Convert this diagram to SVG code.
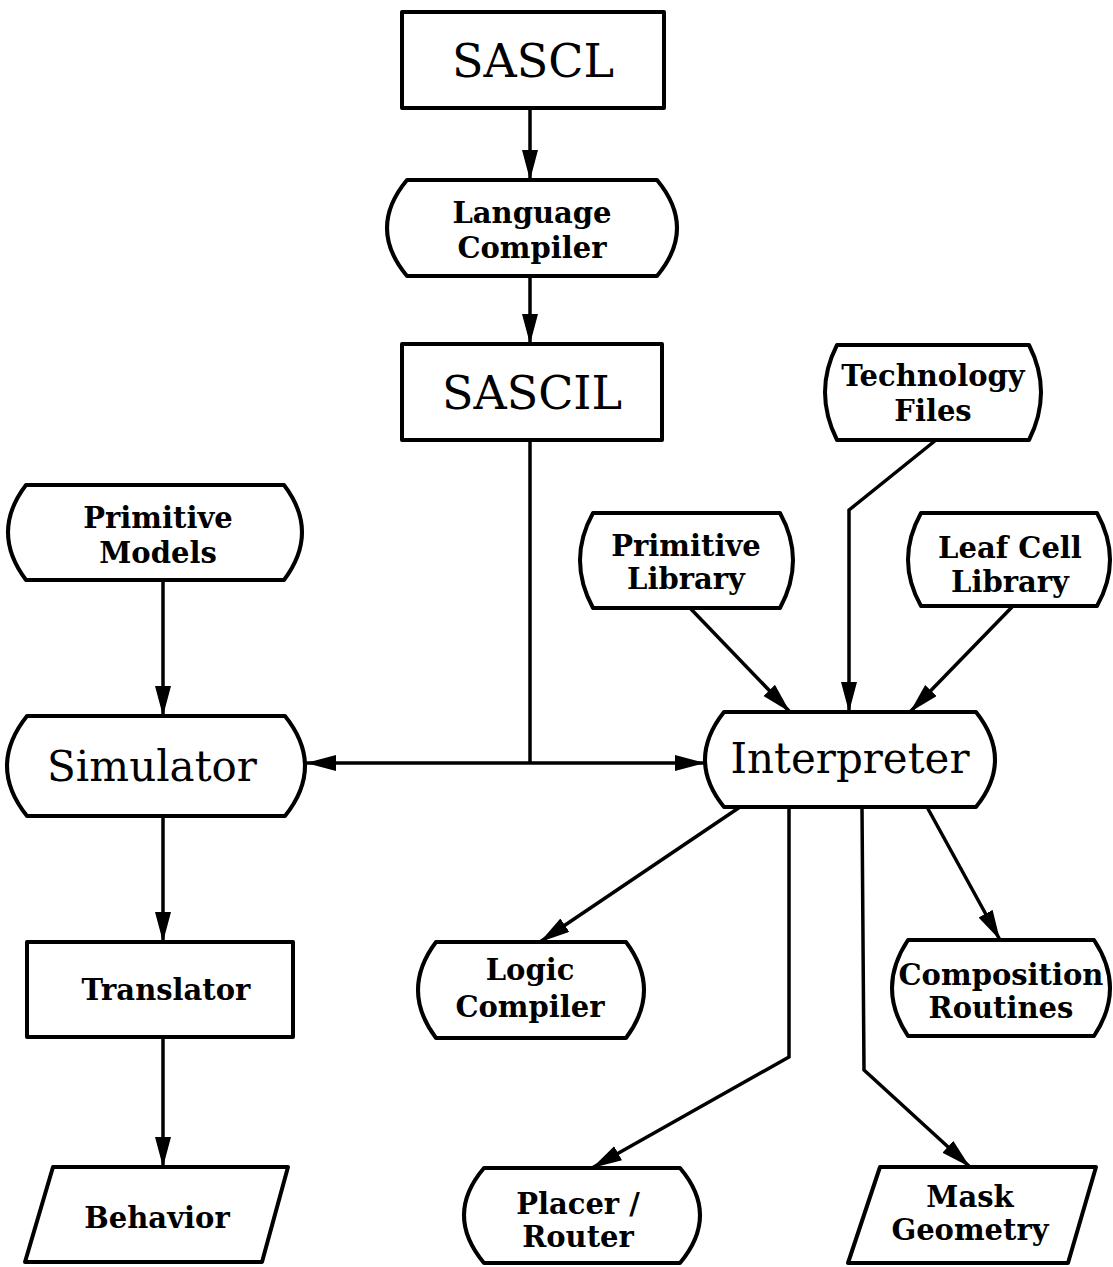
<svg xmlns="http://www.w3.org/2000/svg" width="1113" height="1267" viewBox="0 0 1113 1267">
<style>
.shape{fill:#fff;stroke:#000;stroke-width:4;stroke-linejoin:round}
.conn{fill:none;stroke:#000;stroke-width:3.5}
.big{font-family:"DejaVu Serif","Liberation Serif",serif;font-size:46px;fill:#000;text-anchor:middle}
.mid{font-family:"DejaVu Serif","Liberation Serif",serif;font-size:42px;fill:#000;text-anchor:middle}
.lbl{font-family:"DejaVu Serif","Liberation Serif",serif;font-size:29px;font-weight:bold;fill:#000;text-anchor:middle}
</style>
<defs>
<marker id="arr" markerUnits="userSpaceOnUse" markerWidth="32" markerHeight="18" refX="30" refY="8" orient="auto">
<path d="M0,0 L30,8 L0,16 z" fill="#000"/>
</marker>
</defs>
<rect width="1113" height="1267" fill="#fff"/>

<g id="connectors">
<path class="conn" d="M530,108 V180" marker-end="url(#arr)"/>
<path class="conn" d="M530,276 V344" marker-end="url(#arr)"/>
<path class="conn" d="M530,440 V763"/>
<path class="conn" d="M530,763 H306" marker-end="url(#arr)"/>
<path class="conn" d="M530,763 H705" marker-end="url(#arr)"/>
<path class="conn" d="M936,440 L849,510 V712" marker-end="url(#arr)"/>
<path class="conn" d="M690,608 L790,712" marker-end="url(#arr)"/>
<path class="conn" d="M1013,606 L910,712" marker-end="url(#arr)"/>
<path class="conn" d="M163,580 V716" marker-end="url(#arr)"/>
<path class="conn" d="M163,816 V942" marker-end="url(#arr)"/>
<path class="conn" d="M163,1037 V1167" marker-end="url(#arr)"/>
<path class="conn" d="M740,807 L540,942" marker-end="url(#arr)"/>
<path class="conn" d="M789,807 V1057 L592,1168" marker-end="url(#arr)"/>
<path class="conn" d="M862,807 L864,1070 L970,1167" marker-end="url(#arr)"/>
<path class="conn" d="M927,807 L1000,940" marker-end="url(#arr)"/>
</g>

<g id="sascl">
<rect class="shape" x="402" y="12" width="262" height="96"/>
<text class="big" x="533" y="77">SASCL</text>
</g>

<g id="language-compiler">
<path class="shape" d="M407,180 H657 Q697,228 657,276 H407 Q367,228 407,180 Z"/>
<text class="lbl" x="532" y="223">Language</text>
<text class="lbl" x="532" y="258">Compiler</text>
</g>

<g id="sascil">
<rect class="shape" x="402" y="344" width="260" height="96"/>
<text class="big" x="532" y="409">SASCIL</text>
</g>

<g id="technology-files">
<path class="shape" d="M837,345 H1029 Q1053,392 1029,440 H837 Q813,392 837,345 Z"/>
<text class="lbl" x="933" y="386">Technology</text>
<text class="lbl" x="933" y="421">Files</text>
</g>

<g id="primitive-models">
<path class="shape" d="M26,485 H284 Q320,532 284,580 H26 Q-10,532 26,485 Z"/>
<text class="lbl" x="158" y="528">Primitive</text>
<text class="lbl" x="158" y="563">Models</text>
</g>

<g id="primitive-library">
<path class="shape" d="M593,513 H780 Q806,560 780,608 H593 Q567,560 593,513 Z"/>
<text class="lbl" x="686" y="556">Primitive</text>
<text class="lbl" x="686" y="589">Library</text>
</g>

<g id="leaf-cell-library">
<path class="shape" d="M921,513 H1097 Q1123,560 1097,606 H921 Q895,560 921,513 Z"/>
<text class="lbl" x="1010" y="558">Leaf Cell</text>
<text class="lbl" x="1010" y="592">Library</text>
</g>

<g id="simulator">
<path class="shape" d="M27,716 H285 Q325,766 285,816 H27 Q-13,766 27,716 Z"/>
<text class="mid" x="152" y="781">Simulator</text>
</g>

<g id="interpreter">
<path class="shape" d="M724,712 H976 Q1014,760 976,807 H724 Q686,760 724,712 Z"/>
<text class="mid" x="850" y="773">Interpreter</text>
</g>

<g id="translator">
<rect class="shape" x="27" y="942" width="266" height="95"/>
<text class="lbl" x="166" y="1000">Translator</text>
</g>

<g id="logic-compiler">
<path class="shape" d="M436,942 H626 Q662,990 626,1038 H436 Q400,990 436,942 Z"/>
<text class="lbl" x="530" y="980">Logic</text>
<text class="lbl" x="530" y="1017">Compiler</text>
</g>

<g id="composition-routines">
<path class="shape" d="M908,940 H1094 Q1126,988 1094,1036 H908 Q876,988 908,940 Z"/>
<text class="lbl" x="1001" y="985">Composition</text>
<text class="lbl" x="1001" y="1018">Routines</text>
</g>

<g id="behavior">
<path class="shape" d="M53,1167 H288 L262,1262 H25 Z"/>
<text class="lbl" x="157" y="1228">Behavior</text>
</g>

<g id="placer-router">
<path class="shape" d="M484,1168 H680 Q720,1215 680,1263 H484 Q444,1215 484,1168 Z"/>
<text class="lbl" x="578" y="1214">Placer /</text>
<text class="lbl" x="578" y="1247">Router</text>
</g>

<g id="mask-geometry">
<path class="shape" d="M880,1167 H1096 L1068,1263 H848 Z"/>
<text class="lbl" x="970" y="1207">Mask</text>
<text class="lbl" x="970" y="1240">Geometry</text>
</g>
</svg>
